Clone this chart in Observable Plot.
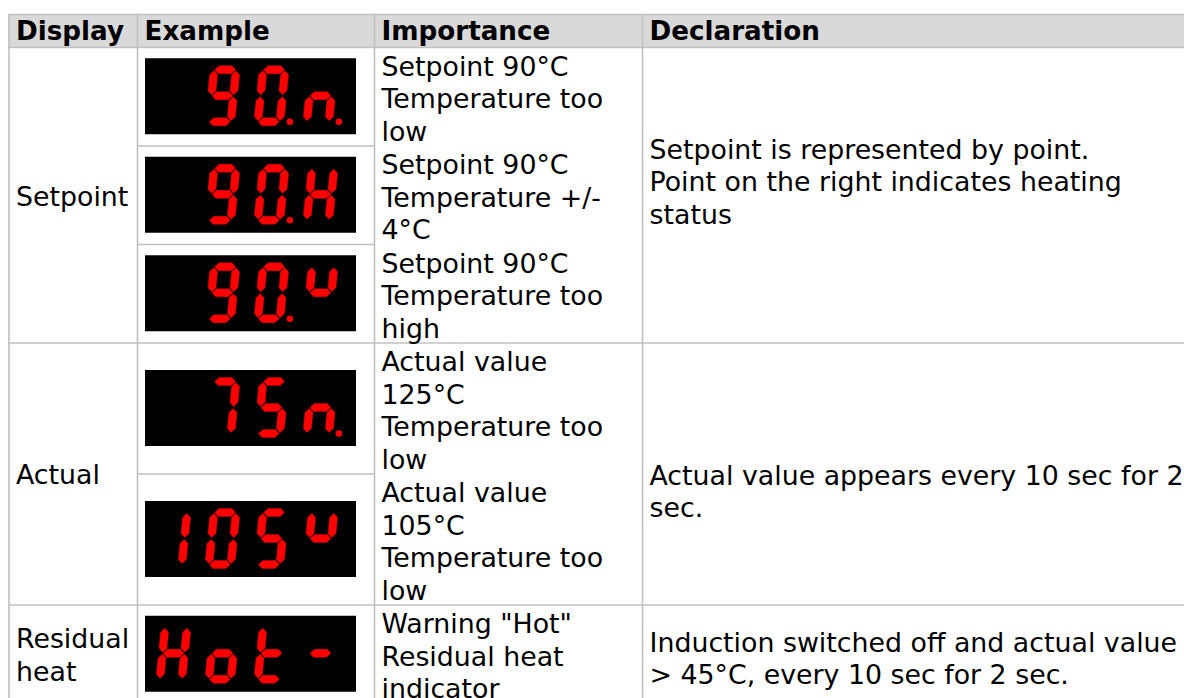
<!DOCTYPE html>
<html><head><meta charset="utf-8">
<script src="https://cdn.jsdelivr.net/npm/d3@7"></script>
<script src="https://cdn.jsdelivr.net/npm/@observablehq/plot@0.6"></script>
<style>
html,body{margin:0;padding:0;background:#fff;}
#chart svg{display:block;}
</style></head><body><div id="chart"></div>
<script>
// ---------- DATA ----------
const headers = ["Display", "Example", "Importance", "Declaration"];
const groupLabels = ["Setpoint", "Actual", "Residual\nheat"];
const declarations = [
  "Setpoint is represented by point.\nPoint on the right indicates heating\nstatus",
  "Actual value appears every 10 sec for 2\nsec.",
  "Induction switched off and actual value\n> 45°C, every 10 sec for 2 sec."
];
const rowGroup = [0, 0, 0, 1, 1, 2];
// seven-segment display contents ("." = decimal point of the previous digit, "u" = raised u)
const displayCodes = [" 90.n.", " 90.H", " 90.u", " 75n.", "105u", "Hot-"];
const importance = [
  "Setpoint 90°C\nTemperature too\nlow",
  "Setpoint 90°C\nTemperature +/-\n4°C",
  "Setpoint 90°C\nTemperature too\nhigh",
  "Actual value\n125°C\nTemperature too\nlow",
  "Actual value\n105°C\nTemperature too\nlow",
  "Warning \"Hot\"\nResidual heat\nindicator"
];
// which segments light up for each glyph
const segmentMap = {
  "0": "abcdef", "1": "bc", "5": "acdfg", "7": "abc", "9": "abcdfg",
  "n": "ceg", "H": "bcefg", "u": "bfg", "o": "cdeg", "t": "defg", "-": "g", " ": ""
};

// ---------- LAYOUT ----------
const W = 1184, H = 698;
const colX = [8.5, 137, 374, 642, 1210];
const top0 = 14, headerH = 33, lineH = 32.5, fs = 26.8, pad = 7;
const border = "#c0c0c0", headerBg = "#d9d9d9", segRed = "#ff0000";
const declShift = [-14.5, 16.5, 3.5];

const nLines = importance.map(s => s.split("\n").length);
const rowTop = [], rowH = [];
let yy = top0 + headerH;
nLines.forEach((n, i) => { rowTop.push(yy); rowH.push(n * lineH + 1); yy += n * lineH + 1; });
const tableBottom = yy;

// group extents
const groups = groupLabels.map((label, g) => {
  const idx = rowGroup.map((r, i) => r === g ? i : -1).filter(i => i >= 0);
  const y1 = rowTop[idx[0]], y2 = rowTop[idx[idx.length - 1]] + rowH[idx[idx.length - 1]];
  return {label, decl: declarations[g], y1, y2, c: (y1 + y2) / 2, shift: declShift[g]};
});

// grid lines
const vlines = colX.slice(0, 4).map(x => ({x, y1: top0, y2: tableBottom}));
const hlines = [
  {y: top0, x1: colX[0], x2: colX[4]},
  {y: top0 + headerH, x1: colX[0], x2: colX[4]}
];
for (let i = 1; i < rowTop.length; i++) {
  const same = rowGroup[i] === rowGroup[i - 1];
  hlines.push({y: rowTop[i], x1: same ? colX[1] : colX[0], x2: same ? colX[2] : colX[4]});
}

// seven segment geometry
const boxLeft = 145, boxW = 211, boxH = 76;
const DW = 30, DH = 60, T = 8, t = T / 2, gap = 1.1, slant = 0.1, pitch = 49, firstOff = 10, digitTop = 7;
function segPoly(seg) {
  const hor = v => { const s = t + gap - 0.5, e = DW - t - gap + 0.5;
    return [[s, v], [s + t, v - t], [e - t, v - t], [e, v], [e - t, v + t], [s + t, v + t]]; };
  const ver = (u, v1, v2) => { const s = v1 + gap, e = v2 - gap;
    return [[u, s], [u + t, s + t], [u + t, e - t], [u, e], [u - t, e - t], [u - t, s + t]]; };
  return {a: hor(t), g: hor(DH / 2), d: hor(DH - t),
          f: ver(t, t, DH / 2), b: ver(DW - t, t, DH / 2),
          e: ver(t, DH / 2, DH - t), c: ver(DW - t, DH / 2, DH - t)}[seg];
}
function parseCode(code) {
  const cells = [];
  for (const ch of code) {
    if (ch === "." && cells.length) cells[cells.length - 1].dp = true;
    else cells.push({ch, dp: false});
  }
  return cells;
}
const boxes = [], segPts = [], dps = [];
displayCodes.forEach((code, i) => {
  const by = rowTop[i] + (rowH[i] - boxH) / 2;
  boxes.push({x1: boxLeft, x2: boxLeft + boxW, y1: by, y2: by + boxH});
  const dTop = by + digitTop;
  parseCode(code).forEach((cell, k) => {
    const x0 = boxLeft + firstOff + k * pitch;
    for (const s of segmentMap[cell.ch] || "") {
      const id = `${i}-${k}-${s}`;
      segPoly(s).forEach(([u, v]) => segPts.push({id, x: x0 + u + slant * (DH - v), y: dTop + v}));
    }
    if (cell.dp) dps.push({x: x0 + DW + 6 + slant * 4, y: dTop + DH - 4});
  });
});

const headerRows = headers.map((h, j) => ({text: h, x: colX[j] + pad, y: top0 + headerH / 2 + 0.5}));
const impRows = importance.map((s, i) => ({text: s, x: colX[2] + pad, y: rowTop[i] + 5}));
const dispRows = groups.map(g => ({text: g.label, x: colX[0] + pad, y: g.c}));
const declRows = groups.map(g => ({text: g.decl, x: colX[3] + pad, y: g.c + g.shift}));

const font = "DejaVu Sans";
const chart = Plot.plot({
  width: W, height: H, margin: 0,
  x: {type: "linear", domain: [0, W], range: [0, W], axis: null},
  y: {type: "linear", domain: [0, H], range: [0, H], axis: null},
  style: {background: "#fff", color: "#000"},
  marks: [
    Plot.rect([{x1: colX[0], x2: colX[4], y1: top0, y2: top0 + headerH}], {x1: "x1", x2: "x2", y1: "y1", y2: "y2", fill: headerBg}),
    Plot.rect(boxes, {x1: "x1", x2: "x2", y1: "y1", y2: "y2", fill: "#000"}),
    Plot.line(segPts, {x: "x", y: "y", z: "id", fill: segRed, stroke: "#e00000", strokeWidth: 0.4, curve: "linear-closed"}),
    Plot.dot(dps, {x: "x", y: "y", r: 3.3, fill: segRed, stroke: "none"}),
    Plot.ruleX(vlines, {x: "x", y1: "y1", y2: "y2", stroke: border, strokeWidth: 1.6}),
    Plot.ruleY(hlines, {y: "y", x1: "x1", x2: "x2", stroke: border, strokeWidth: 1.6}),
    Plot.text(headerRows, {x: "x", y: "y", text: "text", textAnchor: "start", fontSize: fs - 0.6, fontWeight: "bold", fontFamily: font, fill: "#000"}),
    Plot.text(impRows, {x: "x", y: "y", text: "text", textAnchor: "start", lineAnchor: "top", lineHeight: lineH / fs, fontSize: fs, fontFamily: font, fill: "#000"}),
    Plot.text(dispRows, {x: "x", y: "y", text: "text", textAnchor: "start", lineAnchor: "middle", lineHeight: lineH / fs, fontSize: fs, fontFamily: font, fill: "#000"}),
    Plot.text(declRows, {x: "x", y: "y", text: "text", textAnchor: "start", lineAnchor: "middle", lineHeight: lineH / fs, fontSize: fs, fontFamily: font, fill: "#000"})
  ]
});
document.getElementById("chart").append(chart);
</script></body></html>
